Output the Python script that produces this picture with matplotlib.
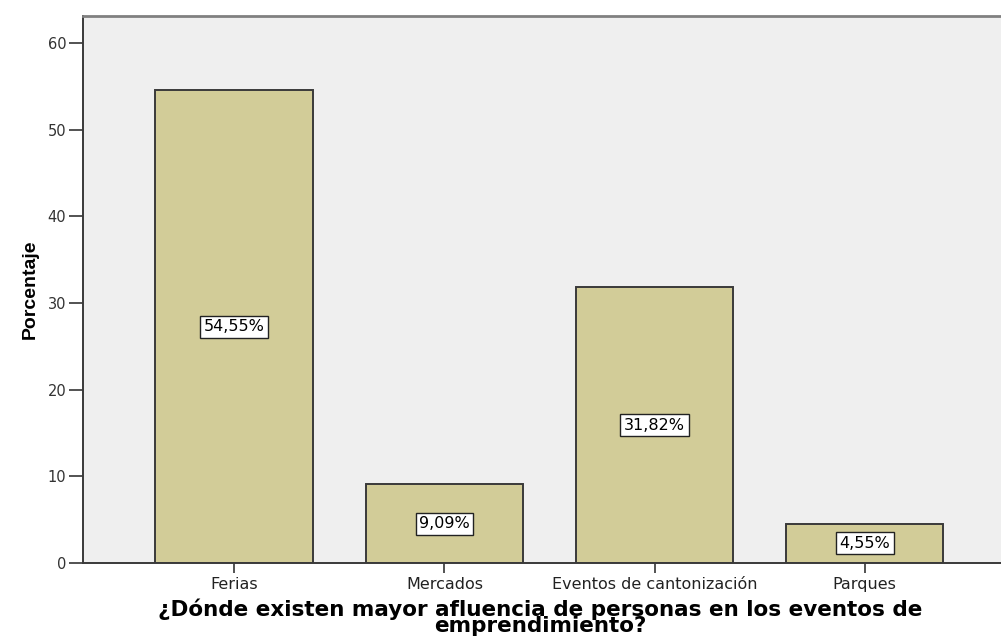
import matplotlib
matplotlib.use("Agg")
import matplotlib.pyplot as plt
import numpy as np

# data
categorias = ["Ferias", "Mercados", "Eventos de cantonización", "Parques"]
porcentajes = [54.55, 9.09, 31.82, 4.55]
etiquetas = ["54,55%", "9,09%", "31,82%", "4,55%"]
yticks = [0, 10, 20, 30, 40, 50, 60]

fig = plt.figure(figsize=(10.01, 6.41), dpi=100)
ax = fig.add_axes([0.0829, 0.1217, 0.932, 0.8533])
ax.set_facecolor("#EFEFEF")

x = np.arange(len(categorias))
ax.bar(x, porcentajes, width=0.75, color="#D2CC98", edgecolor="#3A3A3A",
       linewidth=1.4, zorder=2)

for xi, v, t in zip(x, porcentajes, etiquetas):
    ax.text(xi, v / 2, t, ha="center", va="center", fontsize=11.5,
            family="DejaVu Sans", color="black", zorder=3,
            bbox=dict(boxstyle="square,pad=0.22", fc="white", ec="#222222", lw=1))

ax.set_xlim(-0.72, 3.72)
ax.set_ylim(0, 63.1)
ax.set_xticks(x)
ax.set_xticklabels(categorias, fontsize=11.5, family="DejaVu Sans", color="#222222")
ax.set_yticks(yticks)
ax.set_yticklabels([str(t) for t in yticks], fontsize=10.5, family="DejaVu Sans",
                   color="#333333")
ax.tick_params(axis="y", length=10, width=1.3, color="#444444", pad=2)
ax.tick_params(axis="x", length=7, width=1.3, color="#444444", pad=3)

for s in ["left", "bottom"]:
    ax.spines[s].set_color("#3A3A3A")
    ax.spines[s].set_linewidth(1.4)
ax.spines["top"].set_color("#808080")
ax.spines["top"].set_linewidth(2)
ax.spines["right"].set_visible(False)

ax.set_ylabel("Porcentaje", fontsize=14, fontweight="bold",
              family="Liberation Sans", labelpad=6)

fig.text(0.54, 0.037, "¿Dónde existen mayor afluencia de personas en los eventos de\nemprendimiento?",
         ha="center", va="center", fontsize=15.5, fontweight="bold",
         family="DejaVu Sans", linespacing=0.78)

fig.savefig("out.png", dpi=100)
